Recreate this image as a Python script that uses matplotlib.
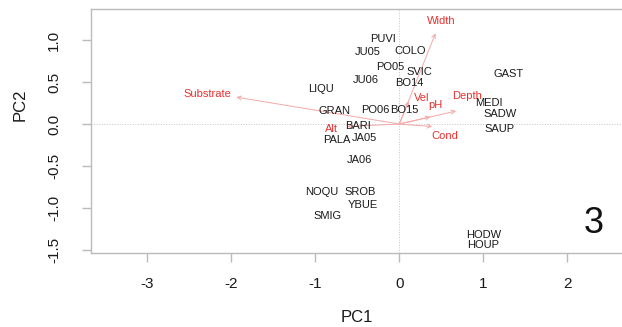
import matplotlib
matplotlib.use('Agg')
import matplotlib.pyplot as plt

plt.rcParams['font.family'] = ['Liberation Sans', 'DejaVu Sans']

# site scores (PC1, PC2)
sites = ['PUVI', 'JU05', 'COLO', 'PO05', 'SVIC', 'JU06', 'BO14', 'GAST', 'LIQU',
         'MEDI', 'SADW', 'SAUP', 'GRAN', 'PO06', 'BO15', 'BARI', 'PALA', 'JA05',
         'JA06', 'NOQU', 'SROB', 'YBUE', 'SMIG', 'HODW', 'HOUP']
site_x = [-0.19, -0.38, 0.13, -0.11, 0.24, -0.40, 0.12, 1.30, -0.93,
          1.07, 1.20, 1.19, -0.77, -0.29, 0.06, -0.49, -0.74, -0.41,
          -0.48, -0.92, -0.47, -0.43, -0.86, 1.00, 1.00]
site_y = [1.01, 0.86, 0.87, 0.68, 0.62, 0.53, 0.49, 0.60, 0.42,
          0.25, 0.12, -0.06, 0.15, 0.17, 0.17, -0.02, -0.19, -0.17,
          -0.43, -0.81, -0.81, -0.96, -1.09, -1.32, -1.44]

# variable loadings (arrow tips) and label positions
variables = ['Width', 'Substrate', 'Depth', 'Cond', 'Alt', 'Vel', 'pH']
arrow_x = [0.43, -1.94, 0.675, 0.39, -0.62, 0.11, 0.37]
arrow_y = [1.08, 0.32, 0.155, -0.03, -0.03, 0.27, 0.085]
label_x = [0.50, -2.29, 0.80, 0.54, -0.81, 0.27, 0.43]
label_y = [1.23, 0.36, 0.33, -0.14, -0.06, 0.31, 0.23]

fig = plt.figure(figsize=(6.22, 3.27), dpi=100)
ax = fig.add_axes([0.1463, 0.2263, 1 - 0.1463, 0.746])
ax.set_xlim(-3.67, 2.65)
ax.set_ylim(-1.536, 1.369)

grey = '#bbbbbb'
ax.axhline(0, color='#c4c4c4', ls=':', lw=0.7)
ax.axvline(0, color='#c4c4c4', ls=':', lw=0.7)

for i in range(len(variables)):
    ax.annotate('', xy=(arrow_x[i], arrow_y[i]), xytext=(0, 0),
                arrowprops=dict(arrowstyle='->', color='#f5a8a8', lw=0.7,
                                shrinkA=0, shrinkB=0, mutation_scale=7))
    ax.text(label_x[i], label_y[i], variables[i], color='#e8302e', fontsize=8,
            ha='center', va='center')

for i in range(len(sites)):
    ax.text(site_x[i], site_y[i], sites[i], color='#1a1a1a', fontsize=8,
            ha='center', va='center')

ax.text(2.31, -1.19, '3', fontsize=26, color='#111111', ha='center', va='center')

ax.spines['right'].set_visible(False)
for s in ['left', 'top', 'bottom']:
    ax.spines[s].set_color(grey)
    ax.spines[s].set_linewidth(1.0)

ax.set_xticks([-3, -2, -1, 0, 1, 2])
ax.set_xticklabels(['-3', '-2', '-1', '0', '1', '2'])
ax.set_yticks([-1.5, -1.0, -0.5, 0.0, 0.5, 1.0])
ax.set_yticklabels(['-1.5', '-1.0', '-0.5', '0.0', '0.5', '1.0'], rotation=90, va='center')
ax.tick_params(axis='x', colors=grey, labelcolor='#1a1a1a', length=6.5, width=1,
               labelsize=11, pad=11)
ax.tick_params(axis='y', colors=grey, labelcolor='#1a1a1a', length=6.5, width=1,
               labelsize=11, pad=15)

ax.set_xlabel('PC1', fontsize=12, color='#1a1a1a', va='center')
ax.xaxis.set_label_coords(0.5, -0.266)
ax.set_ylabel('PC2', fontsize=12, color='#1a1a1a', va='center')
ax.yaxis.set_label_coords(-0.1337, 0.607)

fig.savefig('out.png', dpi=100)
